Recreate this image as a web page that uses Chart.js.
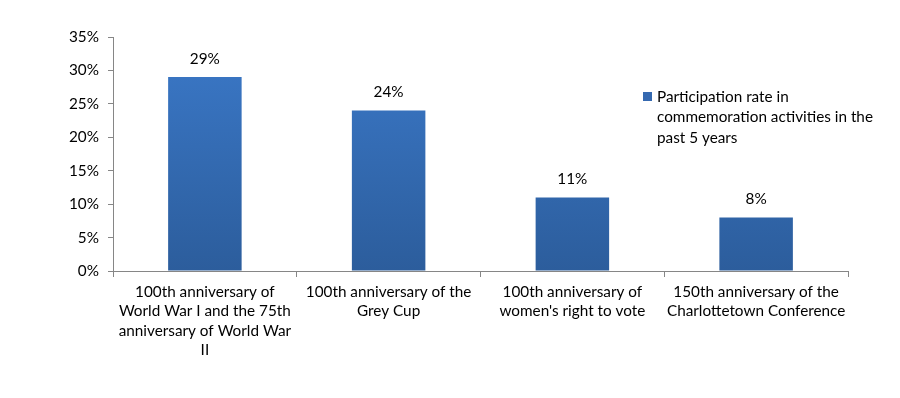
<!DOCTYPE html>
<html><head><meta charset="utf-8">
<script src="https://cdn.jsdelivr.net/npm/chart.js@4/dist/chart.umd.min.js"></script>
<style>html,body{margin:0;padding:0;background:#fff}#wrap{width:900px;height:398px;position:relative}</style>
</head><body><div id="wrap"><canvas id="c" width="900" height="398"></canvas></div>
<script>
const categories = [
  ["100th anniversary of","World War I and the 75th","anniversary of World War","II"],
  ["100th anniversary of the","Grey Cup"],
  ["100th anniversary of","women's right to vote"],
  ["150th anniversary of the","Charlottetown Conference"]
];
const values = [29, 24, 11, 8];
const seriesLabel = "Participation rate in commemoration activities in the past 5 years";
const legendLines = ["Participation rate in","commemoration activities in the","past 5 years"];
const yTicks = [0,5,10,15,20,25,30,35];

const FONT = "Lato, 'Liberation Sans', sans-serif";
const FS = 15.3;

const labelPlugin = {
  id: 'labels',
  afterDatasetsDraw(chart) {
    const ctx = chart.ctx;
    const meta = chart.getDatasetMeta(0);
    ctx.save();
    ctx.font = FS + "px " + FONT;
    ctx.fillStyle = "#000";
    ctx.textAlign = "center";
    ctx.textBaseline = "middle";
    meta.data.forEach((bar, i) => {
      ctx.fillText(values[i] + "%", bar.x, bar.y - 18);
    });
    // legend
    ctx.fillStyle = "#3569b0";
    ctx.fillRect(643, 92, 9, 9);
    ctx.fillStyle = "#000";
    ctx.textAlign = "left";
    legendLines.forEach((l, i) => ctx.fillText(l, 657, 97 + i * 20.5));
    ctx.restore();
  }
};

const ctx = document.getElementById('c').getContext('2d');
new Chart(ctx, {
  type: 'bar',
  data: {
    labels: categories,
    datasets: [{
      label: seriesLabel,
      data: values,
      backgroundColor: (c) => {
        const ch = c.chart;
        const a = ch.chartArea;
        if (!a) return '#3569b0';
        const y0 = ch.scales.y.getPixelForValue(0);
        const bar = c.element;
        const top = bar ? bar.y : a.top;
        const g = ch.ctx.createLinearGradient(0, isFinite(top) ? top : a.top, 0, y0);
        g.addColorStop(0, '#3b79c9');
        g.addColorStop(1, '#2c5d9c');
        return g;
      },
      borderWidth: 0,
      categoryPercentage: 1.0,
      barPercentage: 0.4
    }]
  },
  options: {
    responsive: false,
    animation: false,
    layout: { padding: { left: 0, right: 52, top: 37, bottom: 0 } },
    plugins: { legend: { display: false }, tooltip: { enabled: false } },
    scales: {
      x: {
        afterFit(s) { s.height = 127; },
        grid: { display: true, drawOnChartArea: false, offset: true, color: '#868686', tickLength: 6 },
        border: { display: true, color: '#868686' },
        ticks: { color: '#000', font: { family: FONT, size: FS, lineHeight: 1.28 }, padding: 5, maxRotation: 0, autoSkip: false }
      },
      y: {
        min: 0, max: 35,
        afterFit(s) { s.width = 113; },
        afterBuildTicks(s) { s.ticks = yTicks.map(v => ({ value: v })); },
        grid: { display: true, drawOnChartArea: false, color: '#868686', tickLength: 5 },
        border: { display: true, color: '#868686' },
        ticks: { color: '#000', font: { family: FONT, size: FS }, padding: 9, callback: v => v + '%' }
      }
    }
  },
  plugins: [labelPlugin]
});
</script></body></html>
